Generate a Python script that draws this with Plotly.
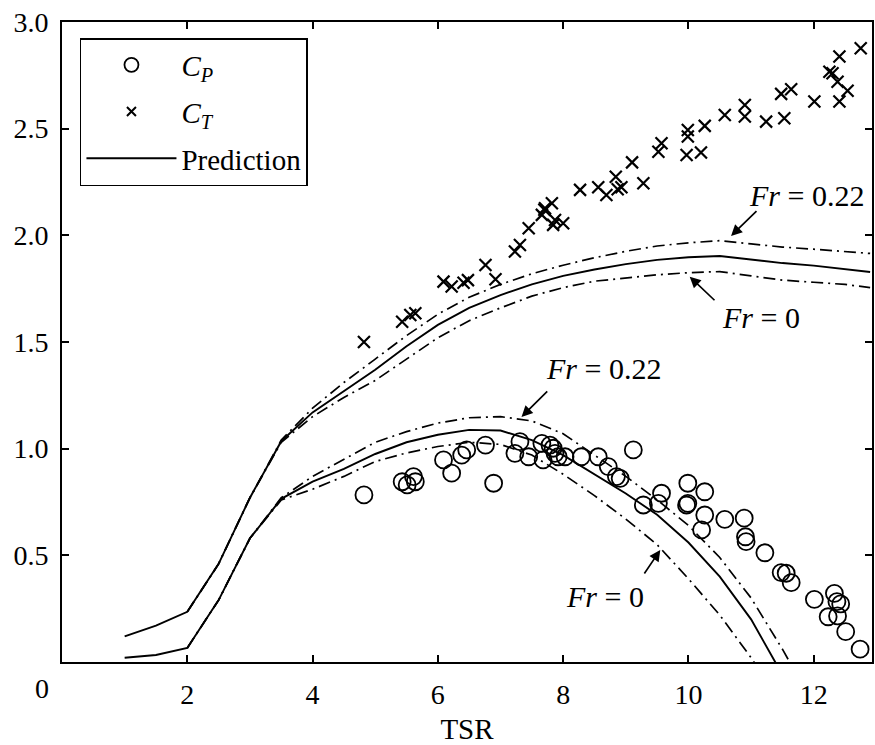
import plotly.graph_objects as go

# ---------------- data ----------------
# Prediction curves (TSR grid shared)
tsr_grid = [1.0, 1.5, 2.0, 2.5, 3.0, 3.5, 4.0, 4.5, 5.0, 5.5, 6.0, 6.5, 7.0, 7.5,
            8.0, 8.5, 9.0, 9.5, 10.0, 10.5, 11.0, 11.5, 12.0, 12.5, 12.9]

ct_pred = [0.12, 0.17, 0.235, 0.46, 0.77, 1.035, 1.17, 1.27, 1.37, 1.48, 1.58, 1.66,
           1.72, 1.77, 1.81, 1.84, 1.865, 1.885, 1.897, 1.903, 1.885, 1.87, 1.858, 1.843, 1.828]
ct_fr022 = [None, None, 0.235, 0.46, 0.77, 1.04, 1.19, 1.31, 1.42, 1.53, 1.63, 1.71,
            1.77, 1.82, 1.86, 1.895, 1.925, 1.95, 1.965, 1.975, 1.96, 1.945, 1.935, 1.925, 1.915]
ct_fr0 = [None, None, 0.235, 0.46, 0.77, 1.03, 1.15, 1.24, 1.32, 1.42, 1.52, 1.60,
          1.66, 1.715, 1.755, 1.785, 1.80, 1.815, 1.825, 1.83, 1.81, 1.79, 1.78, 1.77, 1.755]

cp_pred = [0.02, 0.033, 0.066, 0.29, 0.58, 0.765, 0.845, 0.905, 0.975, 1.03, 1.065, 1.088,
           1.085, 1.04, 0.97, 0.88, 0.79, 0.69, 0.56, 0.40, 0.20, -0.06, None, None, None]
cp_fr022 = [None, None, 0.066, 0.29, 0.58, 0.77, 0.87, 0.95, 1.03, 1.08, 1.12, 1.145,
            1.15, 1.13, 1.07, 0.97, 0.87, 0.76, 0.64, 0.49, 0.30, 0.06, -0.2, None, None]
cp_fr0 = [None, None, 0.066, 0.29, 0.58, 0.76, 0.81, 0.87, 0.94, 0.98, 1.01, 1.03,
          1.02, 0.97, 0.88, 0.78, 0.67, 0.55, 0.39, 0.22, 0.02, -0.2, None, None, None]

# Measured C_T
ct_tsr = [4.82, 5.43, 5.56, 5.64, 6.09, 6.22, 6.41, 6.48, 6.76, 6.92, 7.23, 7.31, 7.45,
          7.66, 7.71, 7.82, 7.70, 7.87, 8.00, 7.84, 8.27, 8.56, 8.69, 8.84, 8.87, 8.93,
          9.10, 9.28, 9.52, 9.57, 9.97, 10.20, 9.99, 9.99, 10.26, 10.58, 10.90, 10.90,
          11.24, 11.53, 11.48, 11.64, 12.01, 12.25, 12.30, 12.38, 12.41, 12.54, 12.41, 12.75]
ct_val = [1.50, 1.595, 1.627, 1.635, 1.783, 1.76, 1.778, 1.79, 1.861, 1.794, 1.924, 1.955,
          2.033, 2.096, 2.127, 2.150, 2.12, 2.072, 2.057, 2.049, 2.213, 2.225, 2.189, 2.275,
          2.216, 2.225, 2.342, 2.244, 2.392, 2.432, 2.377, 2.388, 2.494, 2.463, 2.513,
          2.564, 2.611, 2.557, 2.533, 2.549, 2.663, 2.685, 2.627, 2.767, 2.76, 2.72, 2.838,
          2.678, 2.627, 2.877]

# Measured C_P
cp_tsr = [4.82, 5.43, 5.51, 5.61, 5.64, 6.09, 6.22, 6.38, 6.46, 6.76, 6.89, 7.31, 7.23,
          7.45, 7.66, 7.68, 7.79, 7.84, 7.87, 7.92, 8.03, 8.29, 8.56, 8.72, 8.85, 8.91,
          9.12, 9.28, 9.57, 9.52, 9.99, 9.97, 9.99, 10.26, 10.26, 10.21, 10.58, 10.89,
          10.91, 10.92, 11.22, 11.48, 11.56, 11.64, 12.01, 12.33, 12.37, 12.43, 12.23,
          12.38, 12.51, 12.74]
cp_val = [0.783, 0.845, 0.83, 0.869, 0.845, 0.947, 0.885, 0.970, 0.994, 1.017, 0.838,
          1.033, 0.978, 0.962, 1.025, 0.947, 1.017, 1.002, 0.978, 0.962, 0.962, 0.962,
          0.962, 0.916, 0.869, 0.861, 0.994, 0.736, 0.791, 0.744, 0.838, 0.736, 0.744,
          0.798, 0.689, 0.619, 0.669, 0.674, 0.587, 0.564, 0.512, 0.419, 0.416, 0.372,
          0.294, 0.322, 0.283, 0.272, 0.212, 0.216, 0.142, 0.060]

x_ticks = [2, 4, 6, 8, 10, 12]
y_ticks = [0.5, 1.0, 1.5, 2.0, 2.5, 3.0]

# annotation labels: (text, x, y) and arrows: (tail x, tail y, tip x, tip y)
labels = [("<i>Fr</i> = 0.22", 11.88, 2.185),
          ("<i>Fr</i> = 0", 11.16, 1.613),
          ("<i>Fr</i> = 0.22", 8.64, 1.378),
          ("<i>Fr</i> = 0", 8.67, 0.305)]
arrows = [(11.11, 2.12, 10.68, 1.997),
          (10.44, 1.689, 10.02, 1.806),
          (7.77, 1.275, 7.335, 1.149),
          (9.28, 0.408, 9.55, 0.525)]

# ---------------- figure ----------------
SERIF = "Liberation Serif, Times New Roman, serif"
DASHDOT = "12px,5px,2px,5px"

fig = go.Figure()

for yv in (ct_fr022, ct_fr0, cp_fr022, cp_fr0):
    fig.add_trace(go.Scatter(x=tsr_grid, y=yv, mode="lines", showlegend=False,
                             line=dict(color="black", width=1.7, dash=DASHDOT),
                             hoverinfo="skip"))
fig.add_trace(go.Scatter(x=tsr_grid, y=cp_pred, mode="lines", showlegend=False,
                         line=dict(color="black", width=1.9)))
fig.add_trace(go.Scatter(x=tsr_grid, y=ct_pred, mode="lines", showlegend=False,
                         line=dict(color="black", width=1.9)))

fig.add_trace(go.Scatter(x=cp_tsr, y=cp_val, mode="markers", showlegend=False,
                         marker=dict(symbol="circle-open", size=17, color="black",
                                     line=dict(width=1.8, color="black"))))
fig.add_trace(go.Scatter(x=ct_tsr, y=ct_val, mode="markers", showlegend=False,
                         marker=dict(symbol="x-thin", size=12, color="black",
                                     line=dict(width=2.2, color="black"))))

# legend entries (smaller symbols, as in the reference legend)
fig.add_trace(go.Scatter(x=[None], y=[None], mode="markers",
                         name="<i>C</i><sub><i>P</i></sub>", legendgroup="a",
                         marker=dict(symbol="circle-open", size=14, color="black",
                                     line=dict(width=1.8, color="black"))))
fig.add_trace(go.Scatter(x=[None], y=[None], mode="markers",
                         name="<i>C</i><sub><i>T</i></sub>", legendgroup="b",
                         marker=dict(symbol="x-thin", size=9, color="black",
                                     line=dict(width=2, color="black"))))
fig.add_trace(go.Scatter(x=[None], y=[None], mode="lines", name="Prediction",
                         legendgroup="c", line=dict(color="black", width=1.9)))

for text, x, y in labels:
    fig.add_annotation(x=x, y=y, text=text, showarrow=False,
                       font=dict(family=SERIF, size=30, color="black"))
for tx, ty, hx, hy in arrows:
    fig.add_annotation(x=hx, y=hy, ax=tx, ay=ty, axref="x", ayref="y", text="",
                       showarrow=True, arrowhead=2, arrowsize=1.3, arrowwidth=1.7,
                       arrowcolor="black")

# "0" label at origin
fig.add_annotation(xref="paper", yref="paper", x=-20 / 812, y=-26 / 640, text="0",
                   showarrow=False, font=dict(family=SERIF, size=28, color="black"),
                   xanchor="center", yanchor="middle")

fig.update_layout(
    width=875, height=745,
    margin=dict(l=62, r=1, t=22, b=83),
    paper_bgcolor="white", plot_bgcolor="white",
    font=dict(family=SERIF, color="black"),
    showlegend=True,
    legend=dict(x=18 / 812, y=1 - 16 / 640, xanchor="left", yanchor="top",
                bordercolor="black", borderwidth=1.5, bgcolor="white",
                font=dict(family=SERIF, size=29, color="black"),
                itemwidth=90, tracegroupgap=6, traceorder="grouped"),
    xaxis=dict(range=[0, 12.93], tickvals=x_ticks, ticktext=[str(v) for v in x_ticks],
               ticks="inside", ticklen=7, tickwidth=1.5, tickcolor="black",
               showline=True, linecolor="black", linewidth=2, mirror="ticks",
               showgrid=False, zeroline=False,
               tickfont=dict(family=SERIF, size=28, color="black"),
               ticklabelstandoff=6,
               title=dict(text="TSR", font=dict(family=SERIF, size=29, color="black"),
                          standoff=10)),
    yaxis=dict(range=[0, 3.0], tickvals=y_ticks, ticktext=[f"{v:.1f}" for v in y_ticks],
               ticks="inside", ticklen=7, tickwidth=1.5, tickcolor="black",
               showline=True, linecolor="black", linewidth=2, mirror="ticks",
               showgrid=False, zeroline=False,
               tickfont=dict(family=SERIF, size=28, color="black"),
               ticklabelstandoff=6),
)

fig.write_html("out.html")
